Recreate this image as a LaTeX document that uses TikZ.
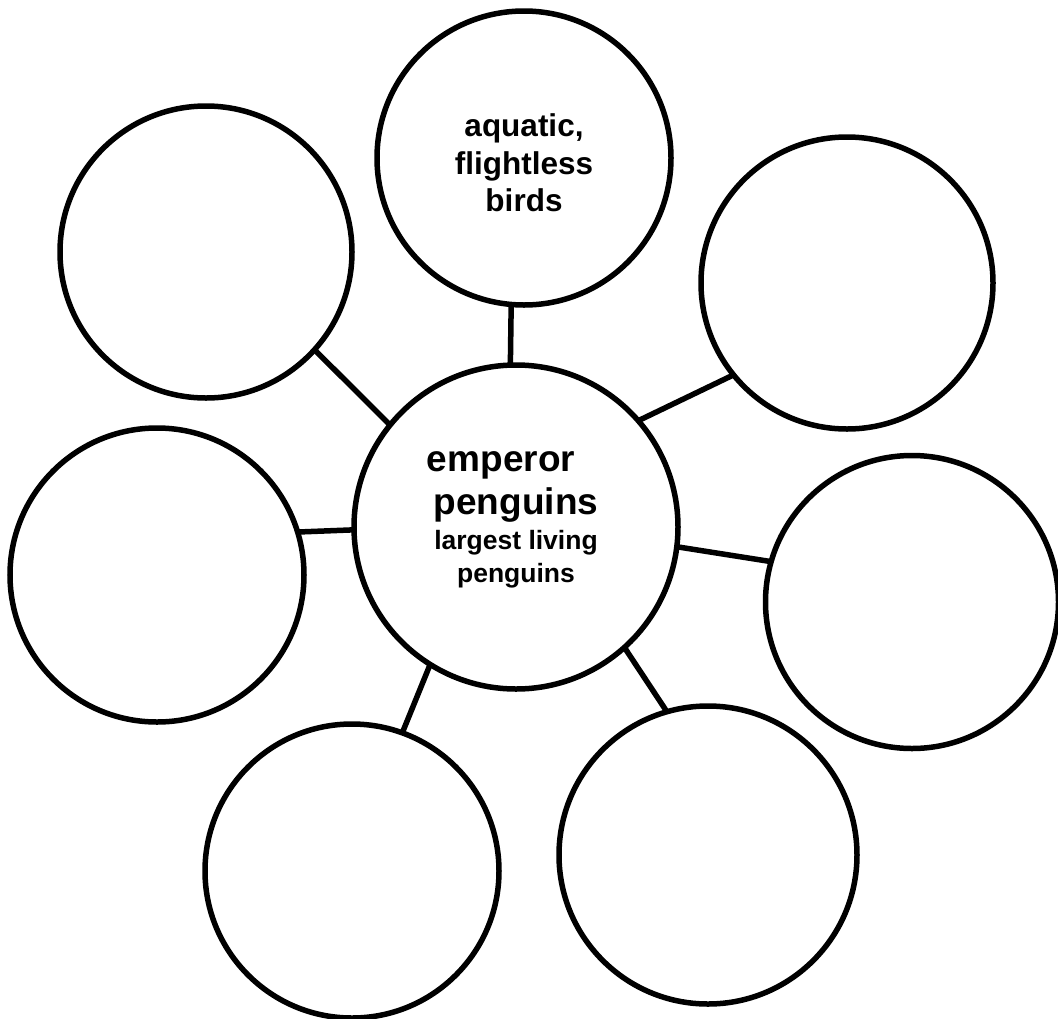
\documentclass[tikz,border=0pt]{standalone}
\usepackage{fontspec}
\setmainfont{Liberation Sans}

\newcommand{\smalltxt}{\fontsize{26.5}{32}\selectfont}

\tikzset{
  bubble/.style={draw, circle, line width=5.5pt, inner sep=0pt, outer sep=0pt,
                 align=center},
  link/.style={line width=5.5pt}
}

\begin{document}
\begin{tikzpicture}[x=1pt,y=-1pt]

\useasboundingbox (0,0) rectangle (1058,1018);

% hub
\node[bubble, minimum size=324, text depth=20pt,
      font=\bfseries\fontsize{37}{43}\selectfont]
  (hub) at (516,527)
  {emperor\hspace*{30pt}\\penguins\hspace*{14pt}\\[-8pt]
   \smalltxt largest living\\[-10pt] \smalltxt penguins};

% outer bubbles
\node[bubble, minimum size=294, text height=108pt,
      font=\bfseries\fontsize{31.5}{37.5}\selectfont]
  (top) at (524,158) {aquatic,\\flightless\\birds};
\node[bubble, minimum size=292] (topleft) at (206,252) {};
\node[bubble, minimum size=292] (topright) at (847,283) {};
\node[bubble, minimum size=294] (left) at (157,575) {};
\node[bubble, minimum size=293] (right) at (912,602) {};
\node[bubble, minimum size=294] (botleft) at (352,871) {};
\node[bubble, minimum size=298] (botright) at (708,855) {};

% links
\draw[link] (hub.92) -- (top.265);
\draw[link] (hub.141) -- (topleft.-42);
\draw[link] (hub.41) -- (topright.-141.5);
\draw[link] (hub.181) -- (left.17);
\draw[link] (hub.-7.5) -- (right.164);
\draw[link] (hub.-122) -- (botleft.70);
\draw[link] (hub.-48) -- (botright.106.5);

\end{tikzpicture}
\end{document}
